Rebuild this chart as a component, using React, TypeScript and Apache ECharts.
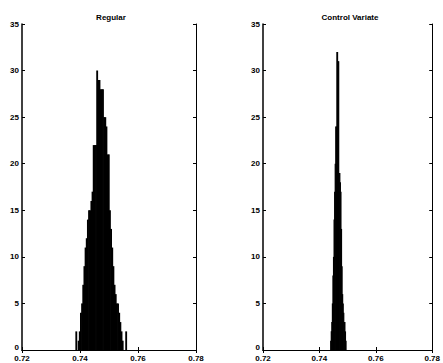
import React, { useEffect, useRef } from "react";
import * as echarts from "echarts";

// Histogram bins
const regularBinStart = 0.7384;
const regularBinWidth = 0.0004;
const regularCounts = [
  2, 0, 1, 2, 4, 5, 7, 9, 11, 12,
  14, 15, 15, 16, 17, 22, 22, 22, 30, 29,
  29, 28, 28, 28, 25, 25, 24, 21, 21, 15,
  13, 11, 9, 7, 6, 5, 5, 4, 3, 2,
  1, 0, 0, 2,
];

const controlBinStart = 0.7438;
const controlBinWidth = 0.0002;
const controlCounts = [
  1, 2, 3, 5, 8, 10, 14, 17, 20, 24,
  24, 32, 32, 31, 31, 19, 19, 18, 17, 13,
  9, 6, 5, 4, 3, 3, 2, 1,
];

const titles = ["Regular", "Control Variate"];
const xTicks = [0.72, 0.74, 0.76, 0.78];
const yTicks = [0, 5, 10, 15, 20, 25, 30, 35];

function toBins(start: number, width: number, counts: number[]) {
  return counts.map((c, i) => [start + i * width, start + (i + 1) * width, c]);
}

const FONT = "'Liberation Sans', Arial, sans-serif";

export default function App() {
  const ref = useRef<HTMLDivElement>(null);
  useEffect(() => {
    if (!ref.current) return;
    const chart = echarts.init(ref.current, undefined, { renderer: "svg" });
    const grids = [
      { left: 22, top: 24, width: 174, height: 326 },
      { left: 263, top: 24, width: 175, height: 326 },
    ];
    const xMin = xTicks[0];
    const xMax = xTicks[xTicks.length - 1];
    const xInt = xTicks[1] - xTicks[0];
    const yMin = yTicks[0];
    const yMax = yTicks[yTicks.length - 1];
    const yInt = yTicks[1] - yTicks[0];

    const xAxes: any[] = [];
    const yAxes: any[] = [];
    grids.forEach((_, gi) => {
      xAxes.push({
        type: "value",
        gridIndex: gi,
        position: "bottom",
        min: xMin,
        max: xMax,
        interval: xInt,
        axisLine: { show: true, lineStyle: { color: "#000", width: 1 } },
        axisTick: { show: true, inside: true, length: 3, lineStyle: { color: "#000" } },
        axisLabel: {
          color: "#000",
          fontSize: 8,
          fontWeight: "bold",
          fontFamily: FONT,
          margin: 4,
          formatter: (v: number) => v.toFixed(2),
        },
        splitLine: { show: false },
      });
      xAxes.push({
        type: "value",
        gridIndex: gi,
        position: "top",
        min: xMin,
        max: xMax,
        interval: xInt,
        axisLine: { show: true, lineStyle: { color: "#000", width: 1 } },
        axisTick: { show: true, inside: true, length: 3, lineStyle: { color: "#000" } },
        axisLabel: { show: false },
        splitLine: { show: false },
      });
      yAxes.push({
        type: "value",
        gridIndex: gi,
        position: "left",
        min: yMin,
        max: yMax,
        interval: yInt,
        axisLine: { show: true, lineStyle: { color: "#000", width: 1.5 } },
        axisTick: { show: true, inside: true, length: 3, lineStyle: { color: "#000" } },
        axisLabel: {
          color: "#000",
          fontSize: 8,
          fontWeight: "bold",
          fontFamily: FONT,
          margin: 3,
          formatter: (v: number) => (v === 0 ? "{z|0}" : String(v)),
          rich: {
            z: {
              fontSize: 8,
              fontWeight: "bold",
              fontFamily: FONT,
              color: "#000",
              padding: [0, 0, 5, 0],
            },
          },
        },
        splitLine: { show: false },
      });
      yAxes.push({
        type: "value",
        gridIndex: gi,
        position: "right",
        min: yMin,
        max: yMax,
        interval: yInt,
        axisLine: { show: true, lineStyle: { color: "#000", width: 1 } },
        axisTick: { show: true, inside: true, length: 3, lineStyle: { color: "#000" } },
        axisLabel: { show: false },
        splitLine: { show: false },
      });
    });

    const renderItem = (params: any, api: any) => {
      const x0 = api.value(0);
      const x1 = api.value(1);
      const c = api.value(2);
      if (!c) return null;
      const p0 = api.coord([x0, c]);
      const p1 = api.coord([x1, 0]);
      return {
        type: "rect",
        shape: {
          x: p0[0],
          y: p0[1],
          width: Math.max(p1[0] - p0[0] + 0.7, 0.8),
          height: p1[1] - p0[1],
        },
        style: { fill: "#000" },
      };
    };

    chart.setOption({
      animation: false,
      backgroundColor: "#fff",
      title: [
        {
          text: titles[0],
          left: 106,
          top: 8,
          textAlign: "center",
          textStyle: { fontSize: 8, fontWeight: "bold", fontFamily: FONT, color: "#000" },
        },
        {
          text: titles[1],
          left: 345,
          top: 8,
          textAlign: "center",
          textStyle: { fontSize: 8, fontWeight: "bold", fontFamily: FONT, color: "#000" },
        },
      ],
      grid: grids,
      xAxis: xAxes,
      yAxis: yAxes,
      series: [
        {
          type: "custom",
          xAxisIndex: 0,
          yAxisIndex: 0,
          renderItem,
          encode: { x: [0, 1], y: 2 },
          data: toBins(regularBinStart, regularBinWidth, regularCounts),
          clip: true,
        },
        {
          type: "custom",
          xAxisIndex: 2,
          yAxisIndex: 2,
          renderItem,
          encode: { x: [0, 1], y: 2 },
          data: toBins(controlBinStart, controlBinWidth, controlCounts),
          clip: true,
        },
      ],
    });
    return () => chart.dispose();
  }, []);
  return (
    <div
      ref={ref}
      style={{ position: "fixed", left: 0, top: 0, width: 443, height: 363 }}
    />
  );
}
